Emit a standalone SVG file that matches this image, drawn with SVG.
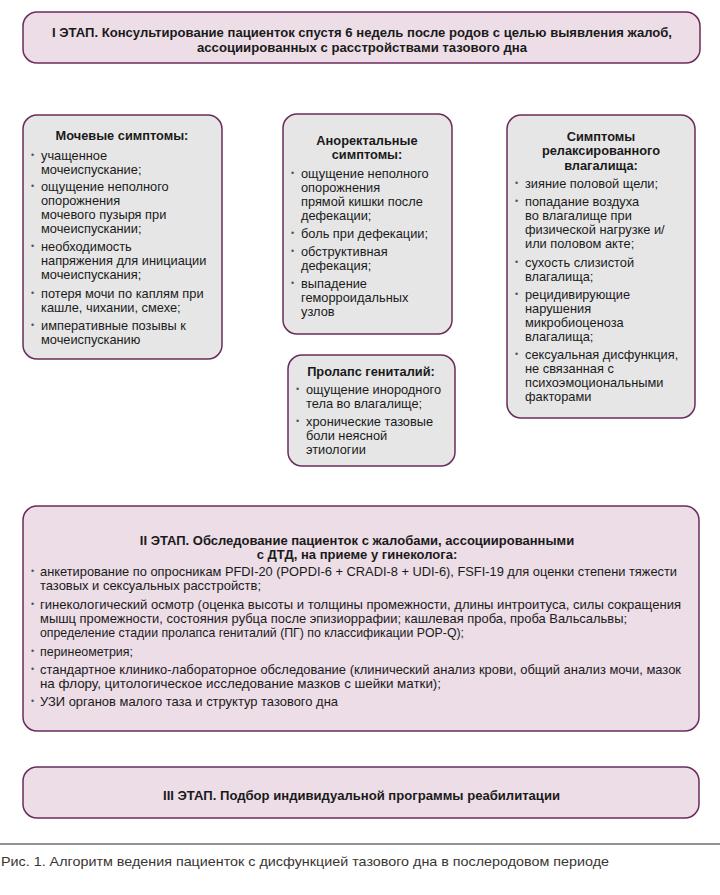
<svg xmlns="http://www.w3.org/2000/svg" width="720" height="895" viewBox="0 0 720 895">
<style>
.stage{fill:#ecdde6;stroke:#6b2b5c;stroke-width:1.5}
.sym{fill:#e6e6e6;stroke:#6b2b5c;stroke-width:1.5}
.st{font-family:"Liberation Sans",Arial,sans-serif;font-size:13px;font-weight:bold;fill:#1a1a1a}
.st2{font-family:"Liberation Sans",Arial,sans-serif;font-size:13px;font-weight:bold;fill:#1a1a1a;text-anchor:middle}
.sb{font-family:"Liberation Sans",Arial,sans-serif;font-size:13px;fill:#1a1a1a}
.h{font-family:"Liberation Sans",Arial,sans-serif;font-size:12.8px;font-weight:bold;fill:#1a1a1a;text-anchor:middle}
.t{font-family:"Liberation Sans",Arial,sans-serif;font-size:12.8px;fill:#1a1a1a}
.b{font-family:"Liberation Sans",Arial,sans-serif;font-size:9px;fill:#555}
.cap{font-family:"Liberation Sans",Arial,sans-serif;font-size:13px;fill:#3a3530}
</style>
<g id="stage1">
<rect class="stage" x="23" y="12" width="677" height="51" rx="14"/>
<text class="st" x="52" y="37" textLength="620" lengthAdjust="spacingAndGlyphs">I ЭТАП. Консультирование пациенток спустя 6 недель после родов с целью выявления жалоб,</text>
<text class="st" x="197" y="52" textLength="330" lengthAdjust="spacingAndGlyphs">ассоциированных с расстройствами тазового дна</text>
</g>
<g id="urinary">
<rect class="sym" x="23" y="115" width="199" height="244" rx="14"/>
<text class="h" x="122" y="140">Мочевые симптомы:</text>
<text class="b" x="31" y="158">•</text><text class="t" x="41" y="160">учащенное</text>
<text class="t" x="41" y="174">мочеиспускание;</text>
<text class="b" x="31" y="189">•</text><text class="t" x="41" y="191">ощущение неполного</text>
<text class="t" x="41" y="205">опорожнения</text>
<text class="t" x="41" y="219">мочевого пузыря при</text>
<text class="t" x="41" y="233">мочеиспускании;</text>
<text class="b" x="31" y="249">•</text><text class="t" x="41" y="251">необходимость</text>
<text class="t" x="41" y="265">напряжения для инициации</text>
<text class="t" x="41" y="279">мочеиспускания;</text>
<text class="b" x="31" y="296">•</text><text class="t" x="41" y="298">потеря мочи по каплям при</text>
<text class="t" x="41" y="312">кашле, чихании, смехе;</text>
<text class="b" x="31" y="328">•</text><text class="t" x="41" y="330">императивные позывы к</text>
<text class="t" x="41" y="344">мочеиспусканию</text>
</g>
<g id="anorectal">
<rect class="sym" x="283" y="114" width="169" height="220" rx="14"/>
<text class="h" x="367" y="145">Аноректальные</text>
<text class="h" x="367" y="159">симптомы:</text>
<text class="b" x="291" y="176">•</text><text class="t" x="301" y="178">ощущение неполного</text>
<text class="t" x="301" y="192">опорожнения</text>
<text class="t" x="301" y="206">прямой кишки после</text>
<text class="t" x="301" y="220">дефекации;</text>
<text class="b" x="291" y="236">•</text><text class="t" x="301" y="238">боль при дефекации;</text>
<text class="b" x="291" y="254">•</text><text class="t" x="301" y="256">обструктивная</text>
<text class="t" x="301" y="270">дефекация;</text>
<text class="b" x="291" y="286">•</text><text class="t" x="301" y="288">выпадение</text>
<text class="t" x="301" y="302">геморроидальных</text>
<text class="t" x="301" y="316">узлов</text>
</g>
<g id="prolapse">
<rect class="sym" x="288" y="355" width="167" height="111" rx="14"/>
<text class="h" x="371" y="376">Пролапс гениталий:</text>
<text class="b" x="296" y="392">•</text><text class="t" x="306" y="394">ощущение инородного</text>
<text class="t" x="306" y="408">тела во влагалище;</text>
<text class="b" x="296" y="424">•</text><text class="t" x="306" y="426">хронические тазовые</text>
<text class="t" x="306" y="440">боли неясной</text>
<text class="t" x="306" y="454">этиологии</text>
</g>
<g id="vaginal">
<rect class="sym" x="507" y="115" width="188" height="303" rx="14"/>
<text class="h" x="601" y="141">Симптомы</text>
<text class="h" x="601" y="155">релаксированного</text>
<text class="h" x="601" y="170">влагалища:</text>
<text class="b" x="515" y="186">•</text><text class="t" x="525" y="188">зияние половой щели;</text>
<text class="b" x="515" y="204">•</text><text class="t" x="525" y="206">попадание воздуха</text>
<text class="t" x="525" y="220">во влагалище при</text>
<text class="t" x="525" y="234">физической нагрузке и/</text>
<text class="t" x="525" y="248">или половом акте;</text>
<text class="b" x="515" y="265">•</text><text class="t" x="525" y="267">сухость слизистой</text>
<text class="t" x="525" y="281">влагалища;</text>
<text class="b" x="515" y="297">•</text><text class="t" x="525" y="299">рецидивирующие</text>
<text class="t" x="525" y="313">нарушения</text>
<text class="t" x="525" y="327">микробиоценоза</text>
<text class="t" x="525" y="341">влагалища;</text>
<text class="b" x="515" y="357">•</text><text class="t" x="525" y="359">сексуальная дисфункция,</text>
<text class="t" x="525" y="373">не связанная с</text>
<text class="t" x="525" y="387">психоэмоциональными</text>
<text class="t" x="525" y="401">факторами</text>
</g>
<g id="stage2">
<rect class="stage" x="23" y="506" width="676" height="225" rx="14"/>
<text class="st2" x="357" y="545">II ЭТАП. Обследование пациенток с жалобами, ассоциированными</text>
<text class="st2" x="357" y="559">с ДТД, на приеме у гинеколога:</text>
<text class="b" x="31" y="574">•</text><text class="sb" x="40" y="576" textLength="637" lengthAdjust="spacingAndGlyphs">анкетирование по опросникам PFDI-20 (POPDI-6 + CRADI-8 + UDI-6), FSFI-19 для оценки степени тяжести</text>
<text class="sb" x="40" y="590" textLength="221" lengthAdjust="spacingAndGlyphs">тазовых и сексуальных расстройств;</text>
<text class="b" x="31" y="607">•</text><text class="sb" x="40" y="609" textLength="641" lengthAdjust="spacingAndGlyphs">гинекологический осмотр (оценка высоты и толщины промежности, длины интроитуса, силы сокращения</text>
<text class="sb" x="40" y="623" textLength="587" lengthAdjust="spacingAndGlyphs">мышц промежности, состояния рубца после эпизиоррафии; кашлевая проба, проба Вальсальвы;</text>
<text class="sb" x="40" y="637" textLength="424" lengthAdjust="spacingAndGlyphs">определение стадии пролапса гениталий (ПГ) по классификации POP-Q);</text>
<text class="b" x="31" y="654">•</text><text class="sb" x="40" y="656" textLength="93" lengthAdjust="spacingAndGlyphs">перинеометрия;</text>
<text class="b" x="31" y="672">•</text><text class="sb" x="40" y="674" textLength="641" lengthAdjust="spacingAndGlyphs">стандартное клинико-лабораторное обследование (клинический анализ крови, общий анализ мочи, мазок</text>
<text class="sb" x="40" y="688" textLength="401" lengthAdjust="spacingAndGlyphs">на флору, цитологическое исследование мазков с шейки матки);</text>
<text class="b" x="31" y="704">•</text><text class="sb" x="40" y="706" textLength="298" lengthAdjust="spacingAndGlyphs">УЗИ органов малого таза и структур тазового дна</text>
</g>
<g id="stage3">
<rect class="stage" x="23" y="767" width="676" height="51" rx="14"/>
<text class="st" x="163" y="800" textLength="397" lengthAdjust="spacingAndGlyphs">III ЭТАП. Подбор индивидуальной программы реабилитации</text>
</g>
<g id="connectors"></g>
<line x1="0" y1="844" x2="720" y2="844" stroke="#2b2520" stroke-width="1.2"/>
<text class="cap" x="1" y="866" textLength="608" lengthAdjust="spacingAndGlyphs">Рис. 1. Алгоритм ведения пациенток с дисфункцией тазового дна в послеродовом периоде</text>
</svg>
